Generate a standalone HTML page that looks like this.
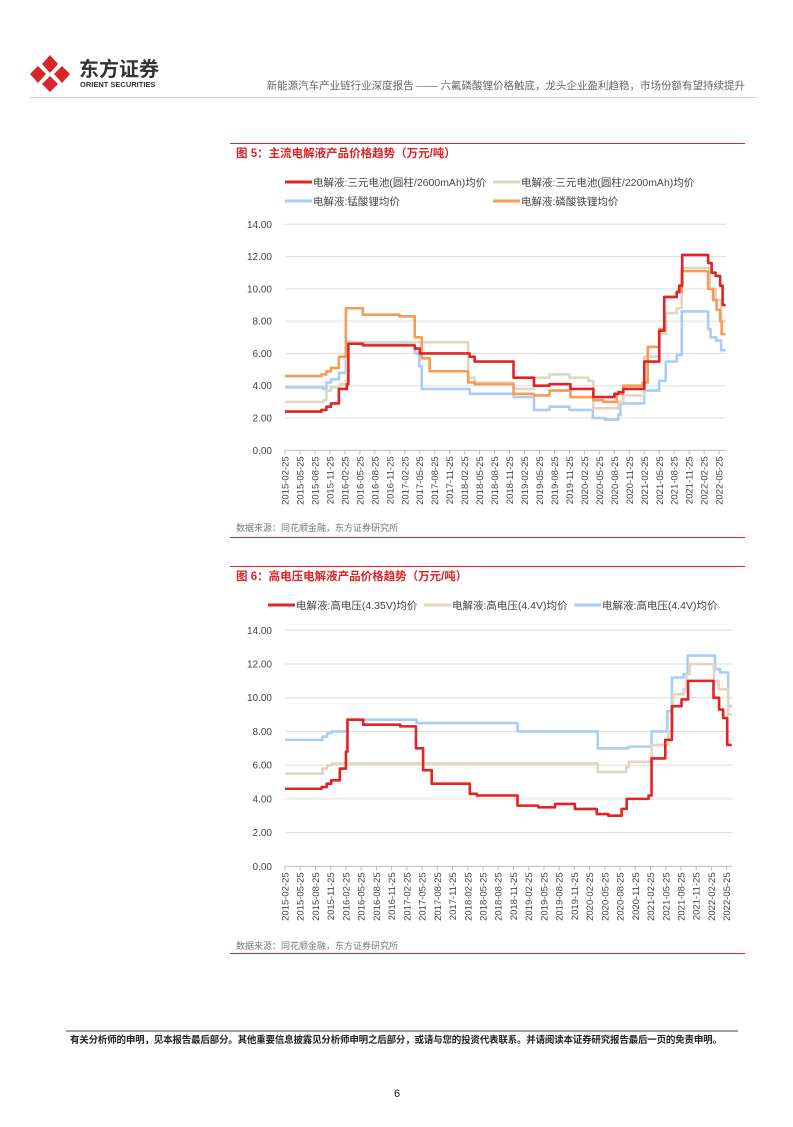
<!DOCTYPE html>
<html><head><meta charset="utf-8">
<style>
html,body{margin:0;padding:0;background:#fff;}
body{width:793px;height:1122px;position:relative;overflow:hidden;font-family:"Liberation Sans","Noto Sans CJK SC",sans-serif;}
svg text{font-family:"Liberation Sans","Noto Sans CJK SC",sans-serif;}
</style></head>
<body>
<svg id="page" width="793" height="1122" viewBox="0 0 793 1122" xmlns="http://www.w3.org/2000/svg">
  <g>
    <polygon points="50,55 58,64 50,73 42,64" fill="#d9252a"/>
    <polygon points="62,66 70,74 62,83 54,74" fill="#d9252a"/>
    <polygon points="38,66 46,74 38,83 30,74" fill="#d9252a"/>
    <polygon points="50,76 58,84 50,92 42,84" fill="#d9252a"/>
    <text x="79" y="76" font-size="20" font-weight="bold" fill="#333">东方证券</text>
    <text x="80" y="87" font-size="7.5" font-weight="bold" fill="#333">ORIENT SECURITIES</text>
  </g>
  <text x="745" y="89" font-size="10.5" fill="#666" text-anchor="end">新能源汽车产业链行业深度报告 —— 六氟磷酸锂价格触底，龙头企业盈利趋稳，市场份额有望持续提升</text>
  <line x1="30" y1="97.5" x2="757" y2="97.5" stroke="#ccc" stroke-width="1"/>

  <line x1="230" y1="143.5" x2="745" y2="143.5" stroke="#d9252a" stroke-width="1"/>
  <text x="236" y="157" font-size="11.5" font-weight="bold" fill="#d9252a">图 5：主流电解液产品价格趋势（万元/吨）</text>
  <g id="chart1"></g>
  <text x="236" y="531" font-size="9" fill="#777">数据来源：同花顺金融，东方证券研究所</text>
  <line x1="230" y1="537.5" x2="745" y2="537.5" stroke="#d9252a" stroke-width="1"/>

  <line x1="230" y1="566.5" x2="745" y2="566.5" stroke="#d9252a" stroke-width="1"/>
  <text x="236" y="580" font-size="11.5" font-weight="bold" fill="#d9252a">图 6：高电压电解液产品价格趋势（万元/吨）</text>
  <g id="chart2"></g>
  <text x="236" y="949" font-size="9" fill="#777">数据来源：同花顺金融，东方证券研究所</text>
  <line x1="230" y1="953.5" x2="745" y2="953.5" stroke="#d9252a" stroke-width="1"/>

  <line x1="66" y1="1031" x2="738" y2="1031" stroke="#444" stroke-width="1"/>
  <text x="70" y="1043" font-size="9.5" font-weight="bold" fill="#222" textLength="652">有关分析师的申明，见本报告最后部分。其他重要信息披露见分析师申明之后部分，或请与您的投资代表联系。并请阅读本证券研究报告最后一页的免责申明。</text>
  <text x="397" y="1097" font-size="11" fill="#222" text-anchor="middle">6</text>
</svg>
<script>
// Shared axis data
const quarterLabels = ["2015-02-25","2015-05-25","2015-08-25","2015-11-25","2016-02-25","2016-05-25","2016-08-25","2016-11-25","2017-02-25","2017-05-25","2017-08-25","2017-11-25","2018-02-25","2018-05-25","2018-08-25","2018-11-25","2019-02-25","2019-05-25","2019-08-25","2019-11-25","2020-02-25","2020-05-25","2020-08-25","2020-11-25","2021-02-25","2021-05-25","2021-08-25","2021-11-25","2022-02-25","2022-05-25"];
const yTicks = [0,2,4,6,8,10,12,14];
// Figure 5 series: months since 2015-02 where price steps, and values (万元/吨)
const c1Names = ["电解液:三元电池(圆柱/2600mAh)均价","电解液:三元电池(圆柱/2200mAh)均价","电解液:锰酸锂均价","电解液:磷酸铁锂均价"];
const c1RedT = [0,7.3,8.3,9.2,10.8,12.4,12.7,15.6,26,27,37,38,45.8,49.9,53,57.2,61.8,66,66.8,67.8,72,75,76,78.5,79,79.6,84.8,85.5,86.3,87.2,87.7,88.3];
const c1RedV = [2.4,2.5,2.7,2.9,3.8,4.1,6.6,6.5,6.3,6.0,5.8,5.5,4.5,4.0,4.1,3.8,3.3,3.5,3.6,3.8,5.5,7.4,9.5,9.8,10.2,12.1,11.6,11.0,10.8,10.2,9.0,9.0];
const c1BeigeT = [0,7.7,8.3,9.2,11,12.2,12.5,36.7,38,45.8,49.9,53,57,60.8,61.8,66.8,67.8,72,75,76.4,78.5,79.5,85.1,86.3,87.4,88.3];
const c1BeigeV = [3.0,3.1,3.7,3.9,4.1,4.3,6.7,4.5,4.2,3.8,4.5,4.7,4.5,4.3,2.6,3.0,3.4,5.8,7.2,8.5,8.8,11.3,10.0,9.3,8.0,8.0];
const c1BlueT = [0,7.7,8.3,9.2,10.8,12.2,15.7,26,26.9,27.4,37,45.8,49.9,53,57,61.7,64.1,66.8,67.2,72,75,76.3,78.5,79.5,84.8,85.3,86.4,87.4,88.3];
const c1BlueV = [3.9,3.8,4.2,4.4,4.8,6.7,6.6,6.0,5.2,3.8,3.5,3.3,2.5,2.7,2.5,2.0,1.9,2.2,2.9,3.7,4.3,5.5,5.9,8.6,7.5,7.0,6.8,6.2,6.2];
const c1OrangeT = [0,7.3,8.3,9.2,10.8,12.2,15.6,22.9,26,27.4,29,36.7,38,45.8,49.9,53,57.2,61.8,63.8,66.5,67.8,71.7,72.7,75,76,78.5,79.5,84.8,85.8,86.5,87.2,87.5,88.3];
const c1OrangeV = [4.6,4.7,4.9,5.1,5.8,8.8,8.4,8.3,7.0,5.7,4.9,4.2,4.1,3.5,3.4,3.7,3.3,3.1,3.0,3.5,4.0,4.2,6.4,7.5,9.5,9.8,11.1,10.0,9.3,8.7,8.0,7.2,7.2];
// Figure 6 series
const c2Names = ["电解液:高电压(4.35V)均价","电解液:高电压(4.4V)均价","电解液:高电压(4.4V)均价"];
const c2RedT = [0,7.2,8.2,9.1,10.8,12,12.3,15.4,22.7,25.8,27.2,28.9,36.4,37.8,45.8,49.9,53.2,57.1,61.4,63.7,66.3,67.3,71.6,72.2,74.9,76.2,78.1,79.4,84.4,85.5,86.3,87.1,88];
const c2RedV = [4.6,4.7,4.9,5.1,5.8,6.8,8.7,8.4,8.3,7.0,5.7,4.9,4.3,4.2,3.6,3.5,3.7,3.4,3.1,3.0,3.4,4.0,4.2,6.4,7.5,9.5,9.9,11.0,10.0,9.3,8.8,7.2,7.2];
const c2BeigeT = [0,7.4,8.3,9.2,12.3,61.6,67.2,67.7,72.2,75.5,76.4,78.5,79.1,79.7,84.5,85.4,87.3,88];
const c2BeigeV = [5.5,5.8,6.0,6.1,6.1,5.6,5.9,6.2,7.2,8.0,10.2,10.5,11.4,12.0,11.0,10.5,9.0,9.0];
const c2BlueT = [0,7.4,8.3,9.2,12.3,25.9,45.8,61.6,67.7,72.2,75.3,76.2,78.5,79.3,84.7,85.7,87.3,88];
const c2BlueV = [7.5,7.7,7.9,8.0,8.7,8.5,8.0,7.0,7.1,8.0,9.2,11.2,11.4,12.5,11.7,11.5,9.5,9.5];

const NS="http://www.w3.org/2000/svg";
function mk(parent,tag,attrs){const e=document.createElementNS(NS,tag);for(const k in attrs)e.setAttribute(k,attrs[k]);parent.appendChild(e);return e;}

function drawChart(g, cfg, series, legend){
  const xScale = m => cfg.x0 + m*cfg.pxPerMonth;
  const yScale = v => cfg.yBottom - v*(cfg.yBottom-cfg.yTop)/14;
  yTicks.forEach(t=>{
    const y=yScale(t);
    if(t>0){const l=mk(g,'line',{x1:cfg.x0,x2:cfg.xEnd,y1:y,y2:y,stroke:'#ddd','stroke-width':1});
      
      }
    const tx=mk(g,'text',{x:cfg.x0-13,y:y+3.5,'font-size':10,fill:'#444','text-anchor':'end'});
    tx.textContent=t.toFixed(2);
    
    
  });
  const ax=mk(g,'line',{x1:cfg.x0,x2:cfg.xEnd,y1:yScale(0),y2:yScale(0),stroke:'#bbb','stroke-width':1});
  
  
  quarterLabels.forEach((lab,i)=>{
    const x=xScale(i*3);
    const tk=mk(g,'line',{x1:x,x2:x,y1:yScale(0),y2:yScale(0)+4,stroke:'#bbb','stroke-width':1});
    
    
    const tx=mk(g,'text',{x:0,y:0,'font-size':9.5,fill:'#444','text-anchor':'end',transform:`translate(${x+3.5},${yScale(0)+6}) rotate(-90)`});
    tx.textContent=lab;
    
    
  });
  series.forEach(s=>{
    let d='';
    s.t.forEach((m,i)=>{
      const x=xScale(m), y=yScale(s.v[i]);
      if(i===0) d+=`M${x},${y}`; else d+=`H${x}V${y}`;
    });
    const p=mk(g,'path',{d:d,fill:'none',stroke:s.color,'stroke-width':s.w||2.6,'stroke-linejoin':'round'});
    
    
  });
  legend.forEach(L=>{
    const lg=mk(g,'g',{});
    
    
    mk(lg,'line',{x1:L.x,x2:L.x+27,y1:L.y,y2:L.y,stroke:L.color,'stroke-width':3});
    const tx=mk(lg,'text',{x:L.x+28,y:L.y+4,'font-size':10.5,fill:'#444'});
    tx.textContent=L.name;
  });
}
drawChart(document.getElementById('chart1'),
  {x0:285,xEnd:726,pxPerMonth:4.99,yTop:224.3,yBottom:450.3},
  [{id:'series-lmo',t:c1BlueT,v:c1BlueV,color:'#a9cdf7'},
   {id:'series-ncm-2200',t:c1BeigeT,v:c1BeigeV,color:'#e0d6c2'},
   {id:'series-lfp',t:c1OrangeT,v:c1OrangeV,color:'#f79b55'},
   {id:'series-ncm-2600',t:c1RedT,v:c1RedV,color:'#e12326'}],
  [{x:285,y:182,name:c1Names[0],color:'#e12326'},{x:493,y:182,name:c1Names[1],color:'#e0d6c2'},
   {x:285,y:201,name:c1Names[2],color:'#a9cdf7'},{x:493,y:201,name:c1Names[3],color:'#f79b55'}]);
drawChart(document.getElementById('chart2'),
  {x0:285,xEnd:732,pxPerMonth:5.077,yTop:630.3,yBottom:866.3},
  [{id:'series-4.4v-blue',t:c2BlueT,v:c2BlueV,color:'#a9cdf7'},
   {id:'series-4.4v-beige',t:c2BeigeT,v:c2BeigeV,color:'#e0d6c2'},
   {id:'series-4.35v',t:c2RedT,v:c2RedV,color:'#e12326'}],
  [{x:268,y:605,name:c2Names[0],color:'#e12326'},{x:424,y:605,name:c2Names[1],color:'#e0d6c2'},
   {x:574,y:605,name:c2Names[2],color:'#a9cdf7'}]);
</script>
</body></html>
